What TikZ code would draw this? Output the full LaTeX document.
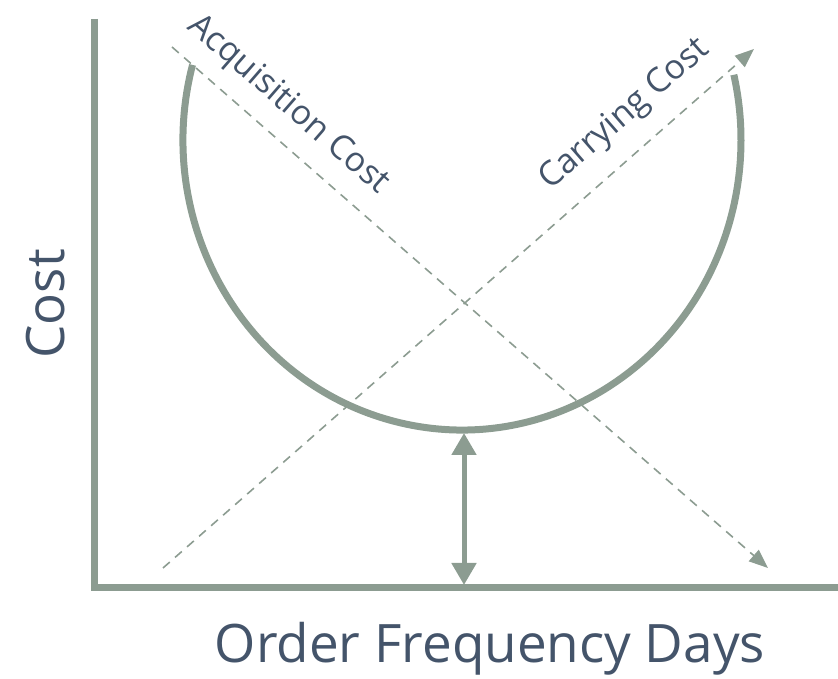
\documentclass[tikz,border=0pt]{standalone}
\usepackage{fontspec}
\setmainfont{Open Sans}
\usetikzlibrary{arrows.meta}
\definecolor{axisgreen}{HTML}{8C9C91}
\definecolor{labelblue}{HTML}{44546A}

\begin{document}
\begin{tikzpicture}[x=1pt,y=1pt,
		axis/.style={draw=axisgreen, line width=7pt},
		costcurve/.style={draw=axisgreen, line width=7pt},
		trend/.style={draw=axisgreen, line width=1.6pt, dash pattern=on 9pt off 7pt, -{Triangle[length=19pt,width=15pt]}},
		gap/.style={draw=axisgreen, line width=5pt, {Triangle[length=22pt,width=24pt]}-{Triangle[length=22pt,width=24pt]}},
		axislabel/.style={text=labelblue, font=\fontsize{53}{60}\selectfont, inner sep=0pt},
		trendlabel/.style={text=labelblue, font=\fontsize{34}{40}\selectfont, inner sep=0pt}
			]
	\useasboundingbox (0,0) rectangle (838,679);
     	\coordinate (top) at (94,660);
     	\coordinate (origin) at (94,91);
     	\coordinate (right) at (838,91);
     	\draw[axis] (top) -- (origin) -- (right);
     	
       \coordinate (curvestart) at ({462+279*cos(165)},{539+290*sin(165)});
       \draw[costcurve] (curvestart) arc[start angle=165, end angle=373, x radius=279, y radius=290];
       \coordinate (minimum) at (464,246);
       \coordinate (floor) at (464,94);
       \draw[gap] (floor) -- (minimum);
       
      \coordinate (acqstart) at (172,632);
      \coordinate (acqend) at (768,111);
      \draw[trend] (acqstart) -- (acqend);
      \coordinate (carrystart) at (163,111);
      \coordinate (carryend) at (754,630);
      \draw[trend] (carrystart) -- (carryend);
      
      \node[trendlabel, rotate=-41] (acqlabel) at (288,574) {Acquisition Cost};
      \node[trendlabel, rotate=41] (carrylabel) at (625,564) {Carrying Cost};
      \node[axislabel, rotate=90] (ylabel) at (46,375) {Cost};
      \node[axislabel, anchor=base] (xlabel) at (490,16) {Order Frequency Days};
 \end{tikzpicture}
\end{document}
